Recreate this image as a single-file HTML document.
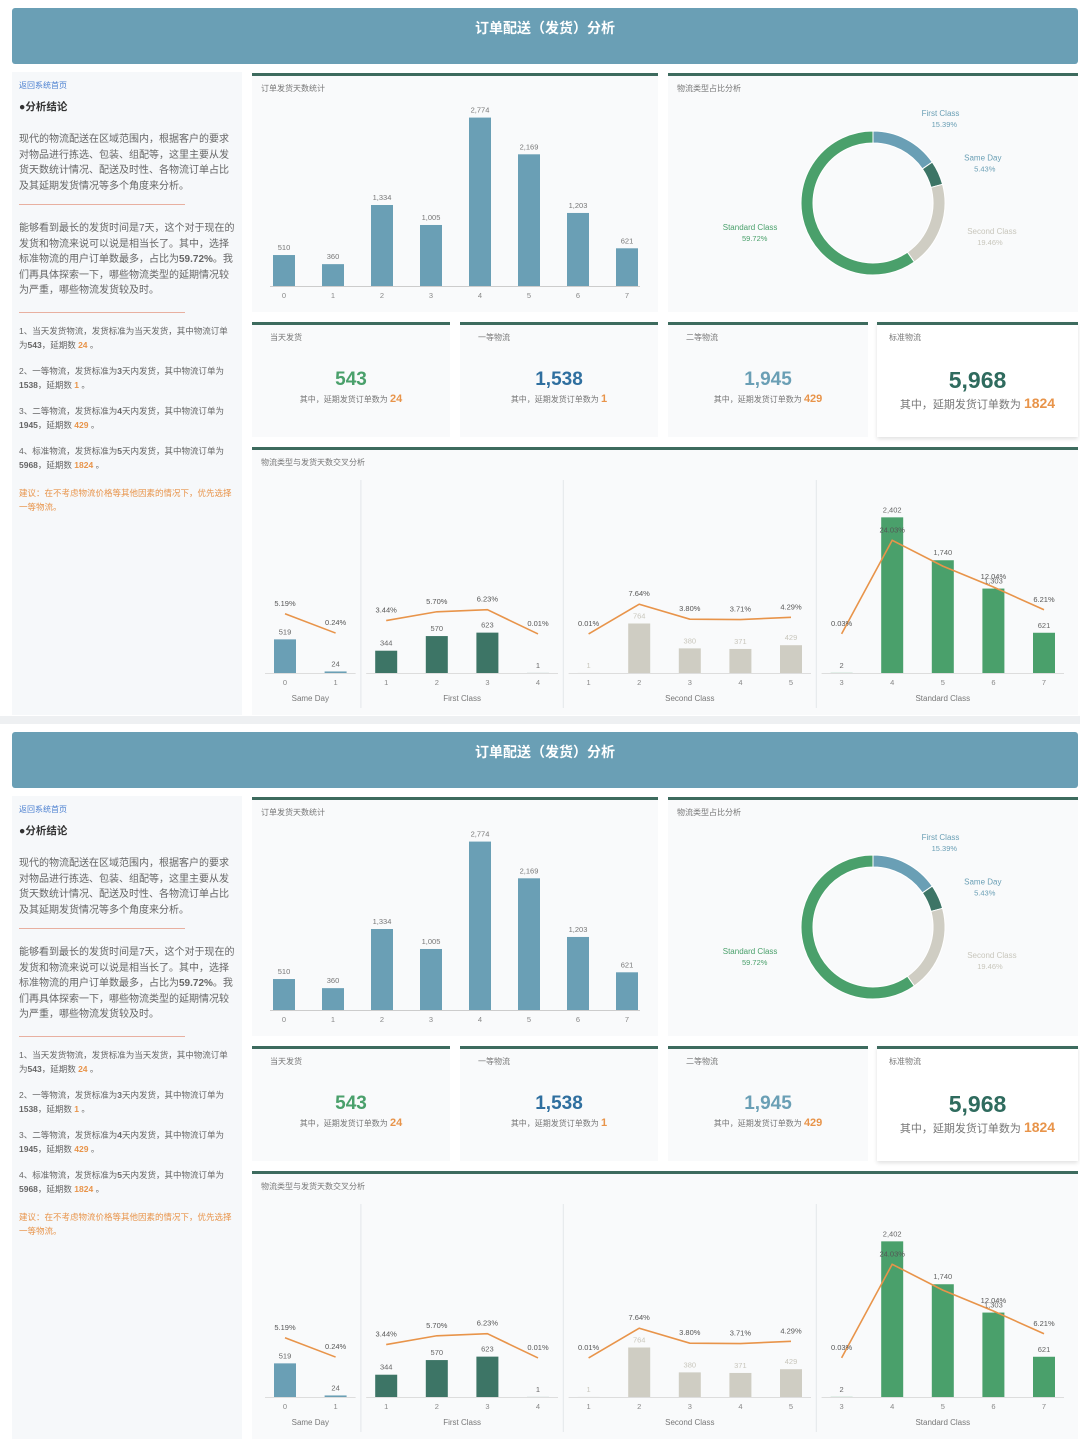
<!DOCTYPE html>
<html><head><meta charset="utf-8">
<style>
body{margin:0;width:1080px;height:1440px;background:#eef0f2;font-family:"Liberation Sans","Noto Sans CJK SC",sans-serif;overflow:hidden;position:relative}
.dash{position:absolute;left:0;width:1080px;height:716px;background:#fff}
.hdr{position:absolute;left:12px;top:8px;width:1066px;height:56px;background:#6a9fb5;border-radius:3px;color:#fff;font-size:14px;font-weight:bold;text-align:center;line-height:40px}
.left{position:absolute;left:12px;top:72px;width:230px;height:643px;background:#f6f8fa}
.left p{margin:0;position:absolute;left:7px;width:216px;font-size:10px;line-height:15.5px;color:#666}
.hr{position:absolute;left:7px;width:166px;height:1px;background:#e8b0a0}
.card{position:absolute;background:#f9fafb;border-top:3px solid #3d6b5e;box-sizing:border-box}
.ct{position:absolute;left:9px;top:7px;font-size:8px;color:#777}
.kn{position:absolute;left:0;width:100%;text-align:center;top:44px;font-size:19px;font-weight:bold}
.ks{position:absolute;left:0;width:100%;text-align:center;top:68px;font-size:8px;color:#777}
.ks b{color:#e8944a;font-size:11px}
.or{color:#e8944a;font-weight:bold}
svg{position:absolute;left:0;top:0}
</style></head><body>
<div class="dash" id="d0" style="top:0">
 <div class="hdr">订单配送（发货）分析</div>
 <div class="left">
  <p style="top:6px;font-size:8px;color:#4a7fd0">返回系统首页</p>
  <p style="top:28px;font-weight:bold;color:#333;font-size:10.5px">●分析结论</p>
  <p style="top:60px">现代的物流配送在区域范围内，根据客户的要求对物品进行拣选、包装、组配等，这里主要从发货天数统计情况、配送及时性、各物流订单占比及其延期发货情况等多个角度来分析。</p>
  <div class="hr" style="top:132px"></div>
  <p style="top:149px">能够看到最长的发货时间是7天，这个对于现在的发货和物流来说可以说是相当长了。其中，选择标准物流的用户订单数最多，占比为<b>59.72%</b>。我们再具体探索一下，哪些物流类型的延期情况较为严重，哪些物流发货较及时。</p>
  <div class="hr" style="top:240px"></div>
  <p style="top:252px;font-size:8.5px;line-height:14px">1、当天发货物流，发货标准为当天发货，其中物流订单为<b>543</b>，延期数 <span class="or">24</span> 。</p>
  <p style="top:292px;font-size:8.5px;line-height:14px">2、一等物流，发货标准为<b>3</b>天内发货，其中物流订单为<b>1538</b>，延期数 <span class="or">1</span> 。</p>
  <p style="top:332px;font-size:8.5px;line-height:14px">3、二等物流，发货标准为<b>4</b>天内发货，其中物流订单为<b>1945</b>，延期数 <span class="or">429</span> 。</p>
  <p style="top:372px;font-size:8.5px;line-height:14px">4、标准物流，发货标准为<b>5</b>天内发货，其中物流订单为<b>5968</b>，延期数 <span class="or">1824</span> 。</p>
  <p style="top:414px;font-size:8.5px;line-height:14px;color:#e8944a">建议：在不考虑物流价格等其他因素的情况下，优先选择一等物流。</p>
 </div>
 <div class="card" style="left:252px;top:73px;width:406px;height:239px"><div class="ct">订单发货天数统计</div></div>
 <div class="card" style="left:668px;top:73px;width:410px;height:239px"><div class="ct">物流类型占比分析</div></div>
 <div class="card" style="left:252px;top:322px;width:198px;height:115px"><div class="ct" style="left:18px">当天发货</div><div class="kn" style="color:#4aa06b">543</div><div class="ks">其中，延期发货订单数为 <b>24</b></div></div>
 <div class="card" style="left:460px;top:322px;width:198px;height:115px"><div class="ct" style="left:18px">一等物流</div><div class="kn" style="color:#2f6f9f">1,538</div><div class="ks">其中，延期发货订单数为 <b>1</b></div></div>
 <div class="card" style="left:668px;top:322px;width:200px;height:115px"><div class="ct" style="left:18px">二等物流</div><div class="kn" style="color:#6a9fb5">1,945</div><div class="ks">其中，延期发货订单数为 <b>429</b></div></div>
 <div class="card" style="left:877px;top:322px;width:201px;height:115px;background:#fff;box-shadow:0 2px 4px rgba(0,0,0,.12)"><div class="ct" style="left:12px">标准物流</div><div class="kn" style="color:#2f6b5e;font-size:23px;top:42px">5,968</div><div class="ks" style="font-size:11px;top:70px">其中，延期发货订单数为 <b style="font-size:14px">1824</b></div></div>
 <div class="card" style="left:252px;top:447px;width:826px;height:268px"><div class="ct">物流类型与发货天数交叉分析</div></div>
</div>
<script>
const days=[0,1,2,3,4,5,6,7];
const dayCounts=[510,360,1334,1005,2774,2169,1203,621];
const modeNames=["First Class","Same Day","Second Class","Standard Class"];
const modeShares=[15.39,5.43,19.46,59.72];
const groupNames=["Same Day","First Class","Second Class","Standard Class"];
const sameDayDays=[0,1], sameDayCounts=[519,24], sameDayPcts=[5.19,0.24];
const firstDays=[1,2,3,4], firstCounts=[344,570,623,1], firstPcts=[3.44,5.70,6.23,0.01];
const secondDays=[1,2,3,4,5], secondCounts=[1,764,380,371,429], secondPcts=[0.01,7.64,3.80,3.71,4.29];
const standardDays=[3,4,5,6,7], standardCounts=[2,2402,1740,1303,621], standardPcts=[0.03,24.03,17.40,12.04,6.21];

const NS="http://www.w3.org/2000/svg";
const modeColors=["#6a9fb5","#3d7566","#cfcdc3","#4aa06b"];
const groupColors=["#6a9fb5","#3d7566","#cfcdc3","#4aa06b"];
function x1(i){return 284+i*49;}
function y1(v){return 286-v*170/2800;}
function x2(k){return 285+k*50.6;}
function y2(v){return 673-v*162/2500;}
function yp(p){return 634-p*3.9;}
function mk(svg,tag,attrs){const e=document.createElementNS(NS,tag);for(const k in attrs)e.setAttribute(k,attrs[k]);svg.appendChild(e);return e;}
function txt(svg,x,y,s,size,fill,anchor){const t=mk(svg,"text",{x:x,y:y,"font-size":size,fill:fill,"text-anchor":anchor||"middle","font-family":"Liberation Sans, sans-serif"});t.textContent=s;return t;}
function fmt(v){return v.toLocaleString("en-US");}

const d1=document.getElementById("d0").cloneNode(true);
d1.id="d1";d1.style.top="724px";
document.body.appendChild(d1);

function draw(dash){
  const svg=document.createElementNS(NS,"svg");
  svg.setAttribute("width","1080");svg.setAttribute("height","716");
  
  
  dash.appendChild(svg);
  mk(svg,"line",{x1:270,x2:640,y1:286.5,y2:286.5,stroke:"#ccc"});
  days.forEach((d,i)=>{
    const r=mk(svg,"rect",{x:x1(i)-11,y:y1(dayCounts[i]),width:22,height:286-y1(dayCounts[i]),fill:"#6a9fb5"});
    
    
    txt(svg,x1(i),y1(dayCounts[i])-5,fmt(dayCounts[i]),7.5,"#777");
    txt(svg,x1(i),298,String(d),7.5,"#888");
  });
  const cx=873,cy=203,ro=72,ri=60;let acc=0;
  modeShares.forEach((s,i)=>{
    const a0=acc/100*2*Math.PI,a1=(acc+s)/100*2*Math.PI;acc+=s;
    const lg=(a1-a0)>Math.PI?1:0;
    const P=(r,a)=>[cx+r*Math.sin(a),cy-r*Math.cos(a)];
    const [ax,ay]=P(ro,a0),[bx,by]=P(ro,a1),[c2x,c2y]=P(ri,a1),[dx,dy]=P(ri,a0);
    const p=mk(svg,"path",{d:`M${ax},${ay}A${ro},${ro} 0 ${lg} 1 ${bx},${by}L${c2x},${c2y}A${ri},${ri} 0 ${lg} 0 ${dx},${dy}Z`,fill:modeColors[i],stroke:"#fff","stroke-width":1});
    
    
    const am=(a0+a1)/2,[lx,ly]=P(96,am);
    const right=Math.sin(am)>=0;
    const col=i==2?"#c8c6bc":(i==3?"#4aa06b":"#6a9fb5");
    txt(svg,lx+(right?4:-4),ly-2,modeNames[i],8,col,right?"start":"end");
    txt(svg,lx+(right?14:-14),ly+9,s.toFixed(2)+"%",7.5,col,right?"start":"end");
  });
  const gDays=[sameDayDays,firstDays,secondDays,standardDays];
  const gCounts=[sameDayCounts,firstCounts,secondCounts,standardCounts];
  const gPcts=[sameDayPcts,firstPcts,secondPcts,standardPcts];
  let k=0;
  gDays.forEach((ds,g)=>{
    const k0=k;
    if(g>0) mk(svg,"line",{x1:x2(k)-25.3,x2:x2(k)-25.3,y1:480,y2:708,stroke:"#e4e7ea"});
    const pts=[];
    ds.forEach((d,j)=>{
      const v=gCounts[g][j],x=x2(k);
      const r=mk(svg,"rect",{x:x-11,y:y2(v),width:22,height:Math.max(673-y2(v),1),fill:groupColors[g]});
      
      
      txt(svg,x,y2(v)-5,fmt(v),7.5,g==2?"#c8c6bc":"#666");
      txt(svg,x,685,String(d),7.5,"#888");
      pts.push([x,yp(gPcts[g][j])]);
      k++;
    });
    mk(svg,"line",{x1:x2(k0)-20,x2:x2(k-1)+20,y1:673.5,y2:673.5,stroke:"#ddd"});
    const pl=mk(svg,"polyline",{points:pts.map(p=>p.join(",")).join(" "),fill:"none",stroke:"#e8944a","stroke-width":1.6});
    
    
    pts.forEach((p,j)=>{ if(!(g==3&&j==2)) txt(svg,p[0],p[1]-8,gPcts[g][j].toFixed(2)+"%",7.5,"#555"); });
    txt(svg,(x2(k0)+x2(k-1))/2,701,groupNames[g],8,"#777");
  });
}
draw(document.getElementById("d0"));
draw(d1);
</script>
</body></html>
